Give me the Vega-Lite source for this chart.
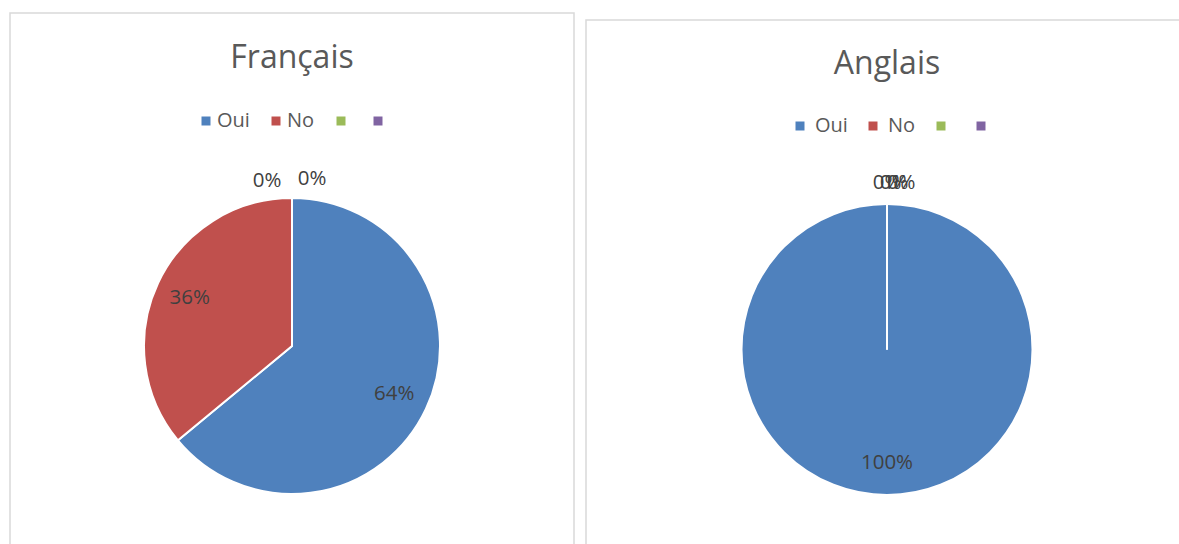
{
  "$schema": "https://vega.github.io/schema/vega-lite/v6.json",
  "padding": {"left": 9, "top": 12, "right": 0, "bottom": 0},
  "background": "white",
  "config": {"view": {"stroke": null}},
  "resolve": {"legend": {"color": "independent"}, "scale": {"color": "independent", "theta": "independent"}},
  "spacing": 10,
  "hconcat": [
    {
      "width": 564,
      "height": 666,
      "view": {"stroke": "#d9d9d9", "strokeWidth": 1.5},
      "title": {"text": "Français", "offset": -87, "baseline": "alphabetic", "font": "Open Sans", "fontSize": 32, "fontWeight": "normal", "color": "#595959", "anchor": "middle", "frame": "group"},
      "data": {"values": [
        {"cat": "Oui", "value": 0.64, "idx": 1},
        {"cat": "No", "value": 0.36, "idx": 2},
        {"cat": "c3", "value": 0, "idx": 3},
        {"cat": "c4", "value": 0, "idx": 4}
      ]},
      "layer": [
        {
          "mark": {"type": "arc", "outerRadius": 148, "stroke": "white", "strokeWidth": 2},
          "encoding": {
            "theta": {"field": "value", "type": "quantitative", "stack": true},
            "order": {"field": "idx", "type": "quantitative"},
            "color": {
              "field": "cat", "type": "nominal",
              "scale": {"domain": ["Oui", "No", "c3", "c4"], "range": ["#4f81bd", "#c0504d", "#9bbb59", "#8064a2"]},
              "legend": {"orient": "none", "legendX": 186, "legendY": 98, "direction": "horizontal", "columns": 4, "title": null, "symbolType": "square", "symbolSize": 81, "symbolStrokeWidth": 0, "symbolOpacity": 1, "labelFont": "Open Sans", "labelFontSize": 20, "labelColor": "#595959", "labelOffset": 1, "columnPadding": 16, "labelExpr": "datum.label == 'c3' || datum.label == 'c4' ? '' : datum.label"}
            }
          }
        },
        {
          "transform": [{"filter": "datum.value > 0"}],
          "mark": {"type": "text", "radius": 113, "font": "Open Sans", "fontSize": 20.5, "color": "#404040"},
          "encoding": {
            "theta": {"field": "value", "type": "quantitative", "stack": true},
            "order": {"field": "idx", "type": "quantitative"},
            "text": {"field": "value", "type": "quantitative", "format": ".0%"}
          }
        },
        {
          "transform": [{"filter": "datum.cat == 'c3'"}],
          "mark": {"type": "text", "radius": 165, "dx": -25, "font": "Open Sans", "fontSize": 20.5, "color": "#404040"},
          "encoding": {
            "theta": {"field": "value", "type": "quantitative", "stack": true},
            "text": {"field": "value", "type": "quantitative", "format": ".0%"}
          }
        },
        {
          "transform": [{"filter": "datum.cat == 'c4'"}],
          "mark": {"type": "text", "radius": 167, "dx": 20, "font": "Open Sans", "fontSize": 20.5, "color": "#404040"},
          "encoding": {
            "theta": {"field": "value", "type": "quantitative", "stack": true},
            "text": {"field": "value", "type": "quantitative", "format": ".0%"}
          }
        }
      ]
    },
    {
      "spacing": 5,
      "resolve": {"legend": {"color": "independent"}, "scale": {"color": "independent", "theta": "independent"}},
      "vconcat": [
        {
          "width": 602,
          "height": 1,
          "data": {"values": []},
          "mark": "point",
          "encoding": {}
        },
        {
          "width": 602,
          "height": 659,
          "view": {"stroke": "#d9d9d9", "strokeWidth": 1.5},
          "title": {"text": "Anglais", "offset": -86, "baseline": "alphabetic", "font": "Open Sans", "fontSize": 32, "fontWeight": "normal", "color": "#595959", "anchor": "middle", "frame": "group"},
          "data": {"values": [
            {"cat": "Oui", "value": 1, "idx": 1},
            {"cat": "No", "value": 0, "idx": 2},
            {"cat": "c3", "value": 0, "idx": 3},
            {"cat": "c4", "value": 0, "idx": 4}
          ]},
          "layer": [
            {
              "mark": {"type": "arc", "outerRadius": 145.5, "stroke": "white", "strokeWidth": 2},
              "encoding": {
                "theta": {"field": "value", "type": "quantitative", "stack": true},
                "order": {"field": "idx", "type": "quantitative"},
                "color": {
                  "field": "cat", "type": "nominal",
                  "scale": {"domain": ["Oui", "No", "c3", "c4"], "range": ["#4f81bd", "#c0504d", "#9bbb59", "#8064a2"]},
                  "legend": {"orient": "none", "legendX": 204, "legendY": 96, "direction": "horizontal", "columns": 4, "title": null, "symbolType": "square", "symbolSize": 81, "symbolStrokeWidth": 0, "symbolOpacity": 1, "labelFont": "Open Sans", "labelFontSize": 20, "labelColor": "#595959", "labelOffset": 5, "columnPadding": 15, "labelExpr": "datum.label == 'c3' || datum.label == 'c4' ? '' : datum.label"}
                }
              }
            },
            {
              "transform": [{"filter": "datum.value > 0"}],
              "mark": {"type": "text", "radius": 113.5, "font": "Open Sans", "fontSize": 20.5, "color": "#404040"},
              "encoding": {
                "theta": {"field": "value", "type": "quantitative", "stack": true},
                "order": {"field": "idx", "type": "quantitative"},
                "text": {"field": "value", "type": "quantitative", "format": ".0%"}
              }
            },
            {
              "transform": [{"filter": "datum.cat == 'No'"}],
              "mark": {"type": "text", "radius": 167, "dx": 0, "font": "Open Sans", "fontSize": 20.5, "color": "#404040"},
              "encoding": {
                "theta": {"field": "value", "type": "quantitative", "stack": true},
                "text": {"field": "value", "type": "quantitative", "format": ".0%"}
              }
            },
            {
              "transform": [{"filter": "datum.cat == 'c3'"}],
              "mark": {"type": "text", "radius": 167, "dx": 7, "font": "Open Sans", "fontSize": 20.5, "color": "#404040"},
              "encoding": {
                "theta": {"field": "value", "type": "quantitative", "stack": true},
                "text": {"field": "value", "type": "quantitative", "format": ".0%"}
              }
            },
            {
              "transform": [{"filter": "datum.cat == 'c4'"}],
              "mark": {"type": "text", "radius": 167, "dx": 14, "font": "Open Sans", "fontSize": 20.5, "color": "#404040"},
              "encoding": {
                "theta": {"field": "value", "type": "quantitative", "stack": true},
                "text": {"field": "value", "type": "quantitative", "format": ".0%"}
              }
            }
          ]
        }
      ]
    }
  ]
}
